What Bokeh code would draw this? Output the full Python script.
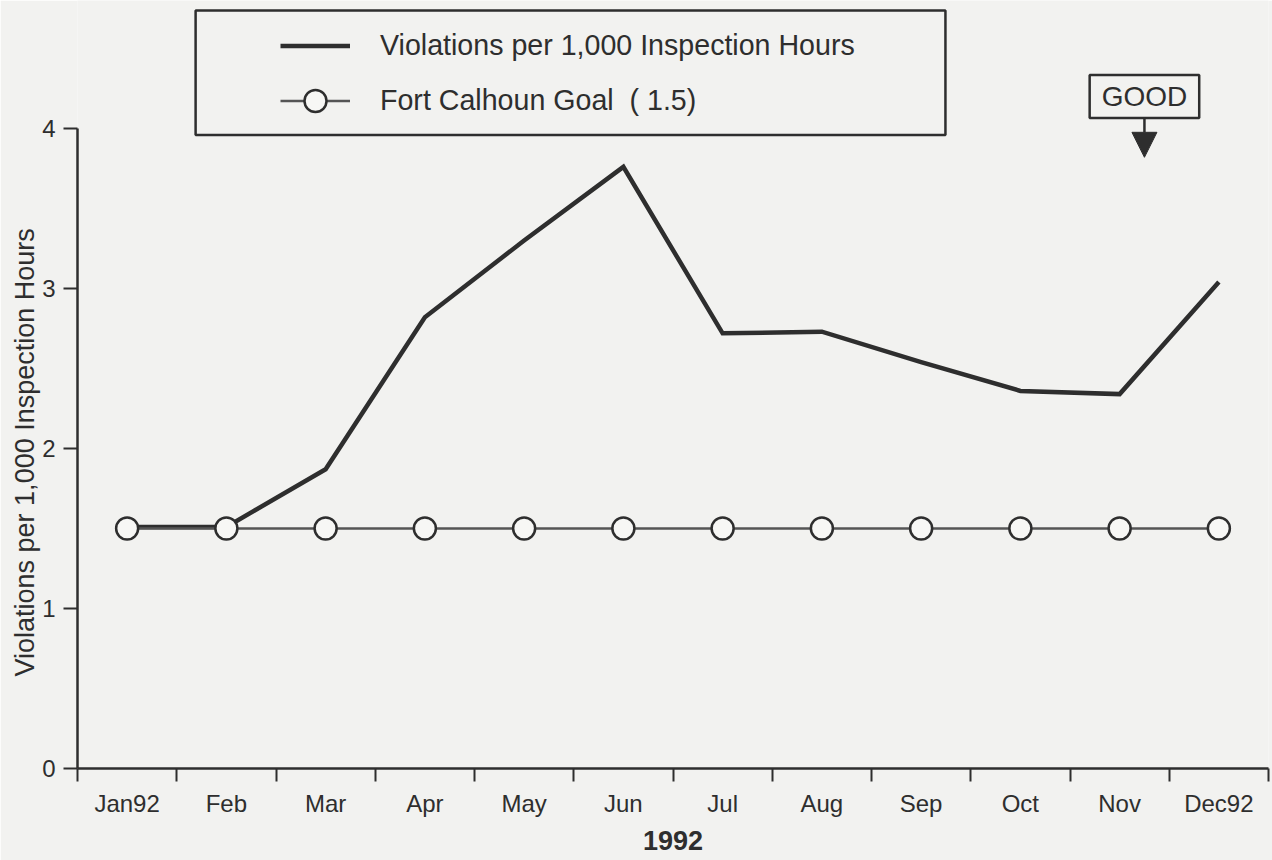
from bokeh.plotting import figure
from bokeh.models import (Range1d, FixedTicker, Legend, LegendItem, BoxAnnotation,
                          Label, Arrow, NormalHead, Title)
from bokeh.embed import file_html
from bokeh.resources import INLINE

months = ["Jan92", "Feb", "Mar", "Apr", "May", "Jun", "Jul", "Aug", "Sep", "Oct", "Nov", "Dec92"]
violations = [1.51, 1.51, 1.87, 2.82, 3.30, 3.76, 2.72, 2.73, 2.54, 2.36, 2.34, 3.04]
goal = [1.5] * 12
y_ticks = [0, 1, 2, 3, 4]

xs = [i + 0.5 for i in range(len(months))]

FONT = "Liberation Sans"
INK = "#2e2e2e"
BG = "#f2f2f0"

p = figure(width=1272, height=860, output_backend="svg", toolbar_location=None,
           x_range=Range1d(0, 12), y_range=Range1d(0, 4.8),
           background_fill_color=BG, border_fill_color=BG,
           min_border_left=77, min_border_right=4, min_border_top=0, min_border_bottom=92)
p.outline_line_color = None
p.grid.visible = False

# main series
r_v = p.line(xs, violations, line_width=4.5, line_color=INK, line_join="miter")
# goal series
r_gl = p.line(xs, goal, line_width=2.5, line_color="#555555")
r_gc = p.scatter(xs, goal, size=22, marker="circle", fill_color="#f7f7f5",
                 line_color=INK, line_width=2.5)

# x axis
xa = p.xaxis[0]
xa.ticker = FixedTicker(ticks=xs, minor_ticks=list(range(13)))
xa.major_label_overrides = {x: m for x, m in zip(xs, months)}
xa.major_tick_out = 0
xa.major_tick_in = 0
xa.minor_tick_out = 13
xa.minor_tick_in = 0
xa.minor_tick_line_color = INK
xa.minor_tick_line_width = 2
xa.axis_line_color = INK
xa.axis_line_width = 2.5
xa.major_label_text_font = FONT
xa.major_label_text_font_size = "24px"
xa.major_label_text_color = INK
xa.major_label_standoff = 8
xa.axis_label = "1992"
xa.axis_label_text_font = FONT
xa.axis_label_text_font_size = "27px"
xa.axis_label_text_font_style = "bold"
xa.axis_label_text_color = INK
xa.axis_label_standoff = 11

# y axis
ya = p.yaxis[0]
ya.ticker = FixedTicker(ticks=y_ticks)
ya.bounds = (0, 4)
ya.major_tick_out = 14
ya.major_tick_in = 0
ya.major_tick_line_color = INK
ya.major_tick_line_width = 2
ya.minor_tick_out = 0
ya.minor_tick_in = 0
ya.axis_line_color = INK
ya.axis_line_width = 2.5
ya.major_label_text_font = FONT
ya.major_label_text_font_size = "24px"
ya.major_label_text_color = INK
ya.major_label_standoff = 8

# y axis title, placed along the 0-4 span of the axis
p.add_layout(Title(text="Violations per 1,000 Inspection Hours", align="left", offset=92,
                   text_font=FONT, text_font_size="27px", text_font_style="normal",
                   text_color=INK, standoff=0), "left")

# legend frame
p.add_layout(BoxAnnotation(left=1.19, right=8.745, bottom=3.96, top=4.7375,
                           fill_alpha=0, line_color=INK, line_alpha=1.0, line_width=2.5))
legend = Legend(items=[
    LegendItem(label="Violations per 1,000 Inspection Hours", renderers=[r_v]),
    LegendItem(label="Fort Calhoun Goal  ( 1.5)", renderers=[r_gl, r_gc]),
], location=(203, 640), padding=0, spacing=0, label_height=55, glyph_height=55,
   glyph_width=70, label_standoff=30, border_line_alpha=0, background_fill_alpha=0,
   label_text_font=FONT, label_text_font_size="28.6px", label_text_color=INK,
   margin=0)
p.add_layout(legend)

# GOOD marker
p.add_layout(Label(x=10.75, y=4.2, text="GOOD", text_align="center", text_baseline="middle",
                   text_font=FONT, text_font_size="28px", text_color=INK,
                   border_line_color=INK, border_line_width=2.5,
                   background_fill_color=BG, padding=(12, 6)))
p.add_layout(Arrow(x_start=10.75, y_start=4.069, x_end=10.75, y_end=3.82,
                   line_color=INK, line_width=2.5,
                   end=NormalHead(size=25, fill_color=INK, line_color=INK)))

open("out.html", "w").write(file_html(p, INLINE))
